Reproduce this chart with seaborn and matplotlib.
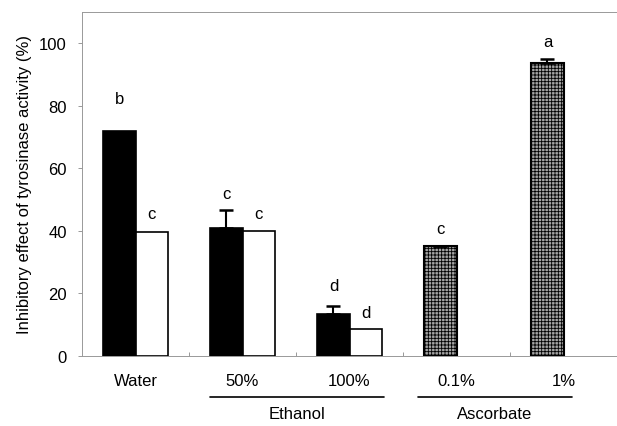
import matplotlib
matplotlib.use("Agg")
import matplotlib.pyplot as plt
import numpy as np
import pandas as pd
import seaborn as sns

# data
categories = ["Water", "50%", "100%", "0.1%", "1%"]
extract_vals = [72.0, 41.0, 13.5, 35.0, 93.5]
extract_err = [0.0, 5.5, 2.5, 0.3, 1.5]
fraction_vals = [39.5, 40.0, 8.5, np.nan, np.nan]
fraction_err = [0.0, 0.0, 0.0, 0.0, 0.0]
extract_letters = ["b", "c", "d", "c", "a"]
fraction_letters = ["c", "c", "d", "", ""]
extract_gap = [8.0, 3.0, 4.0, 3.0, 3.0]
fraction_gap = [3.5, 3.0, 3.0, 0.0, 0.0]
groups = [("Ethanol", 1, 2), ("Ascorbate", 3, 4)]

sns.set_theme(style="white")
plt.rcParams["font.family"] = ["Liberation Sans", "DejaVu Sans"]
plt.rcParams["text.color"] = "black"
plt.rcParams["axes.labelcolor"] = "black"
plt.rcParams["xtick.labelcolor"] = "black"
plt.rcParams["ytick.labelcolor"] = "black"
plt.rcParams["hatch.color"] = "#e4e4e4"
plt.rcParams["hatch.linewidth"] = 0.6

df = pd.DataFrame({
    "category": categories * 2,
    "sample": ["A"] * len(categories) + ["B"] * len(categories),
    "value": extract_vals + fraction_vals,
})

fig = plt.figure(figsize=(6.17, 4.27), dpi=100)
ax = fig.add_axes([0.133, 0.164, 0.867, 0.806])

sns.barplot(data=df, x="category", y="value", hue="sample", hue_order=["A", "B"],
            order=categories, palette=["black", "white"], errorbar=None,
            width=0.6, edgecolor="black", linewidth=1.2, legend=False, ax=ax)

n = len(categories)
bars_a = ax.patches[:n]
bars_b = ax.patches[n:2 * n]

# ascorbate bars are grey stippled
for i in (3, 4):
    p = bars_a[i]
    p.set_facecolor("#a4a4a4")
    p.set_hatch("+++++")
    p.set_edgecolor("black")
    p.set_linewidth(1.5)

for bars, vals, errs, letters, gaps in [
        (bars_a, extract_vals, extract_err, extract_letters, extract_gap),
        (bars_b, fraction_vals, fraction_err, fraction_letters, fraction_gap)]:
    for p, v, e, lab, g in zip(bars, vals, errs, letters, gaps):
        if np.isnan(v):
            continue
        xc = p.get_x() + p.get_width() / 2
        if e > 0:
            ax.errorbar(xc, v, yerr=[[0], [e]], fmt="none", ecolor="black",
                        elinewidth=1.5, capsize=5, capthick=1.8)
        if lab:
            ax.text(xc, v + e + g, lab, ha="center", va="bottom", fontsize=12)

ax.set_ylim(0, 110)
ax.set_xlim(-0.5, n - 0.6)
ax.set_yticks([0, 20, 40, 60, 80, 100])
ax.set_ylabel("Inhibitory effect of tyrosinase activity (%)", fontsize=12, labelpad=5)
ax.set_xlabel("")
ax.tick_params(axis="y", labelsize=12, left=True, length=3, width=0.6,
               color="#888888", direction="out", pad=8)
ax.tick_params(axis="x", labelsize=12, length=0, pad=12)
ax.set_xticks(np.arange(n) + 0.5, minor=True)
ax.tick_params(axis="x", which="minor", bottom=True, length=3, width=0.6,
               color="#888888", direction="in")

for side in ["left", "bottom", "top"]:
    ax.spines[side].set_color("#999999")
    ax.spines[side].set_linewidth(0.7)
    ax.spines[side].set_linestyle((0, (4, 1)))
ax.spines["right"].set_visible(False)

trans = ax.get_xaxis_transform()
group_span = {"Ethanol": (-0.3, 0.32), "Ascorbate": (-0.36, 0.08)}
for name, i0, i1 in groups:
    lo, hi = group_span[name]
    x0, x1 = i0 + lo, i1 + hi
    ax.plot([x0, x1], [-0.119, -0.119], color="black", lw=1.2,
            transform=trans, clip_on=False)
    ax.text((x0 + x1) / 2, -0.145, name, transform=trans, ha="center",
            va="top", fontsize=12)

fig.savefig("out.png", dpi=100)
